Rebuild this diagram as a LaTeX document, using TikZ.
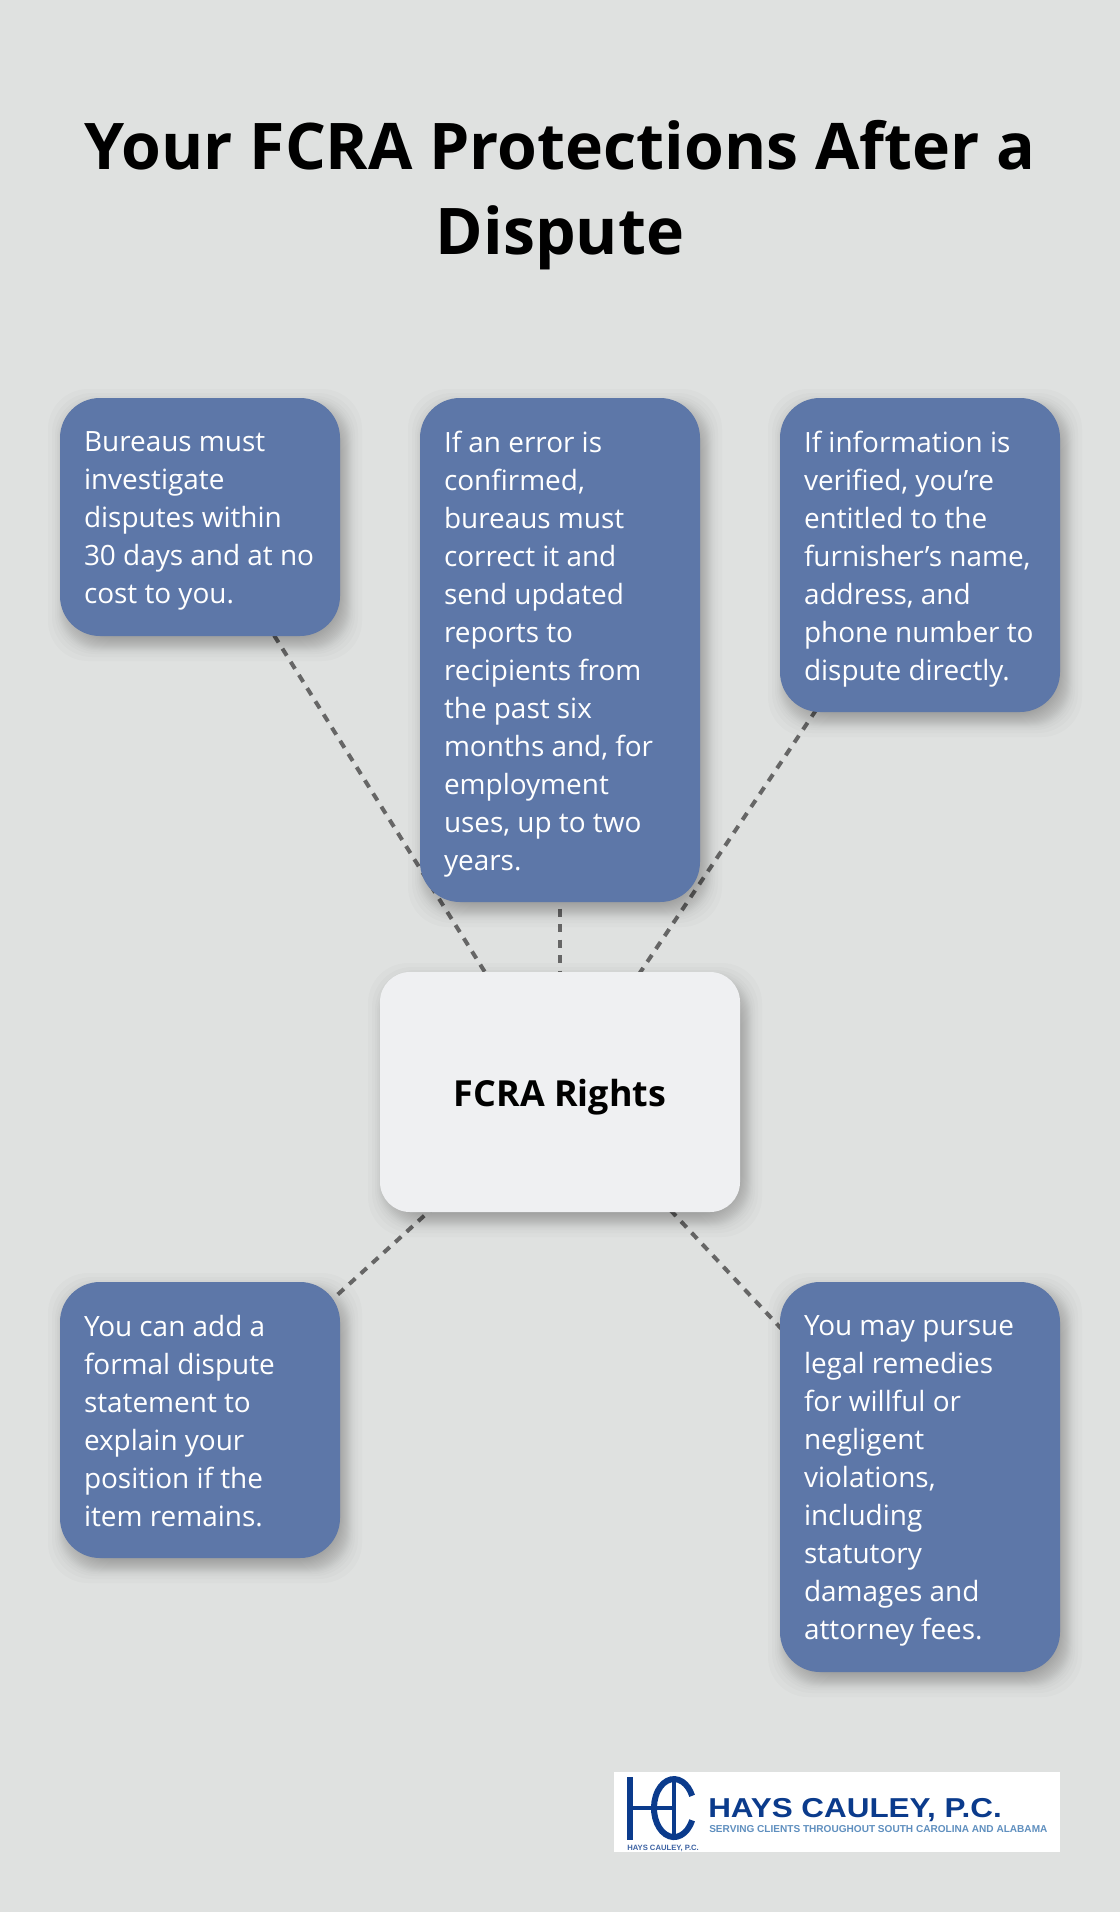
\documentclass[tikz,border=0pt]{standalone}
\usepackage{fontspec}
\setmainfont{Open Sans}
\newfontfamily\logofont[FakeStretch=1.15]{Liberation Sans}
\newfontfamily\logotagfont{Liberation Sans}
\usetikzlibrary{calc}
\definecolor{bgc}{HTML}{DFE1E0}
\definecolor{boxc}{HTML}{5D77A8}
\definecolor{centerc}{HTML}{EFF0F2}
\definecolor{linec}{HTML}{666666}
\definecolor{logoc}{HTML}{0B3B8C}
\definecolor{logolight}{HTML}{5F8FBF}
\pgfdeclarelayer{bglayer}
\pgfdeclarelayer{linklayer}
\pgfdeclarelayer{shadowlayer}
\pgfsetlayers{bglayer,linklayer,shadowlayer,main}
\newcommand{\tightspaces}{\spaceskip=5.4pt minus 1.3pt\relax}
\newcommand{\bottomtrim}{\vspace{-6pt}}
\tikzset{
  x=0.75pt,y=-0.75pt,
  infobox/.style={rectangle,rounded corners=30pt,fill=boxc,text=white,align=left,anchor=center,
    text width=174pt,inner sep=0pt,minimum width=210pt,
    font=\fontsize{20.95pt}{28.5pt}\selectfont,
    execute at begin node=\tightspaces,
    execute at end node=\bottomtrim},
  hubbox/.style={rectangle,rounded corners=22.5pt,fill=centerc,text=black,anchor=center,
    minimum width=270pt,minimum height=180pt,inner sep=0pt,
    font=\fontsize{26.9pt}{32pt}\selectfont\bfseries},
  link/.style={draw=linec,line width=3pt,dash pattern=on 6.15pt off 5.5pt},
  logostroke/.style={draw=logoc,line width=4.5pt},
}
\newcommand{\softshadow}[4]{%
  \begin{pgfonlayer}{shadowlayer}
  \foreach \e in {17,13,10,8,6.5,5.5,4.5,3.5,2.5,1.5,0.5,-0.5,-1.5,-2.5,-3.5,-4.5,-5.5,-6.5,-8,-10,-13,-17}{
    \fill[black,opacity=0.016,rounded corners=30pt]
      ($(#1,#2)+(5-\e,8-\e)$) rectangle ($(#3,#4)+(5+\e,8+\e)$);
  }
  \end{pgfonlayer}}
\begin{document}
\begin{tikzpicture}
\useasboundingbox (0,0) rectangle (1120,1912);
\begin{pgfonlayer}{bglayer}
\fill[bgc] (0,0) rectangle (1120,1912);
\end{pgfonlayer}
\node[font=\fontsize{48.25pt}{64pt}\selectfont\bfseries,align=center,anchor=center,inner sep=0pt] (title) at (560,195)
  {Your FCRA Protections After a\\Dispute};
\softshadow{60}{398}{340}{636}
\softshadow{420}{398}{700}{902}
\softshadow{780}{398}{1060}{712}
\softshadow{60}{1282}{340}{1558}
\softshadow{780}{1282}{1060}{1672}
\softshadow{380}{972}{740}{1212}
\node[infobox,minimum height=178.5pt] (b1) at (200,517)
  {Bureaus must\\investigate\\disputes within\\30 days and at no\\cost to you.};
\node[infobox,minimum height=378pt] (b2) at (560,650)
  {If an error is\\confirmed,\\bureaus must\\correct it and\\send updated\\reports to\\recipients from\\the past six\\months and, for\\employment\\uses, up to two\\years.};
\node[infobox,minimum height=235.5pt] (b3) at (920,555)
  {If information is\\verified, you’re\\entitled to the\\furnisher’s name,\\address, and\\phone number to\\dispute directly.};
\node[infobox,minimum height=207pt] (b4) at (200,1420)
  {You can add a\\formal dispute\\statement to\\explain your\\position if the\\item remains.\vphantom{y}};
\node[infobox,minimum height=292.5pt] (b5) at (920,1477)
  {You may pursue\\legal remedies\\for willful or\\negligent\\violations,\\including\\statutory\\damages and\\attorney fees.};
\node[hubbox] (hub) at (560,1092) {\raisebox{-10.5pt}[0pt][0pt]{FCRA Rights}};
\begin{pgfonlayer}{linklayer}
\draw[link] (b1.center) -- (hub.center);
\draw[link,dash phase=4.1pt] (b2.center) -- (hub.center);
\draw[link] (b3.center) -- (hub.center);
\draw[link] (b4.center) -- (hub.center);
\draw[link] (b5.center) -- (hub.center);
\end{pgfonlayer}
% logo
\node[fill=white,minimum width=334.5pt,minimum height=60pt,inner sep=0pt,anchor=center] (logobg) at (837,1812) {};
\draw[logostroke] (630,1777) -- (630,1840);
\draw[logostroke,line width=3.6pt] (630,1808) -- (674,1808);
\draw[logostroke,line width=3.6pt] (674,1777) -- (674,1840);
\draw[logostroke] (692.1,1820.3) arc[start angle=25,end angle=335,x radius=20,y radius=29];
\node[anchor=base west,inner sep=0pt,text=logoc,font=\logofont\bfseries\fontsize{20.5pt}{24pt}\selectfont] (logoname) at (708,1817) {HAYS CAULEY, P.C.};
\node[anchor=base west,inner sep=0pt,text=logolight,font=\logotagfont\bfseries\fontsize{7.55pt}{10pt}\selectfont] (logotag) at (709,1832) {SERVING CLIENTS THROUGHOUT SOUTH CAROLINA AND ALABAMA};
\node[anchor=base west,inner sep=0pt,text=logoc!80,font=\logotagfont\bfseries\fontsize{5.75pt}{7pt}\selectfont] (logosmall) at (627,1850) {HAYS CAULEY, P.C.};
\end{tikzpicture}
\end{document}
